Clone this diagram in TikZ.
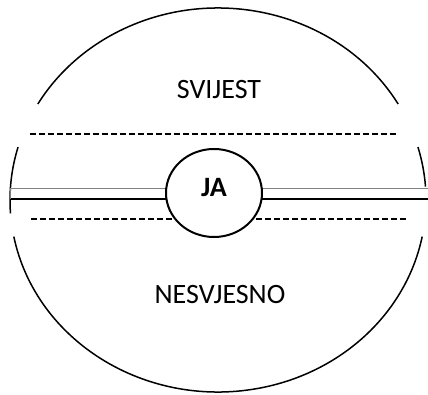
\documentclass[tikz,border=0pt]{standalone}
\usepackage{fontspec}
\setmainfont{Carlito}
\usetikzlibrary{shapes.geometric, positioning}

\begin{document}
\begin{tikzpicture}[
        x=1pt, y=1pt,
        rim/.style={line width=1.5pt},
        split/.style={line width=1.8pt, dash pattern=on 6pt off 3pt},
        label text/.style={font=\fontsize{28}{34}\selectfont},
        self/.style={ellipse, draw, line width=2pt, fill=white,
            minimum width=96pt, minimum height=88pt, inner sep=0pt,
            text depth=12pt, font=\fontsize{28}{34}\selectfont\bfseries}
    ]
        \useasboundingbox (0,0) rectangle (428,394);
        % outer ellipse, broken where the layers meet
        \draw[rim] (218,194) ++(30:208 and 192) arc[start angle=30, end angle=150, x radius=208, y radius=192];
        \draw[rim] (218,194) ++(164:208 and 192) arc[start angle=164, end angle=184, x radius=208, y radius=192];
        \draw[rim] (218,194) ++(191:208 and 192) arc[start angle=191, end angle=349, x radius=208, y radius=192];
        \draw[rim] (218,194) ++(4:208 and 192) arc[start angle=4, end angle=16, x radius=208, y radius=192];
\coordinate (gl) at (10,206);
        \coordinate (gr) at (428,206);
        \coordinate (bl) at (10,195);
        \coordinate (br) at (428,195);
        \coordinate (ul) at (30,260);
        \coordinate (ur) at (396,260);
        \coordinate (dl) at (31,175);
        \coordinate (dr) at (407,175);
\draw[gray, line width=0.8pt] (gl) -- (gr);
        \draw[line width=1.8pt] (bl) -- (br);
        \draw[gray, line width=0.6pt] (gl) -- (bl);
        \draw[split] (ul) -- (ur);
        \draw[split] (dl) -- (dr);
\node[self] (ja) at (214,201) {JA};
        \node[label text] (svijest) at (219,304) {SVIJEST};
        \node[label text] (nesvjesno) at (220,99) {NESVJESNO};
\end{tikzpicture}
\end{document}
